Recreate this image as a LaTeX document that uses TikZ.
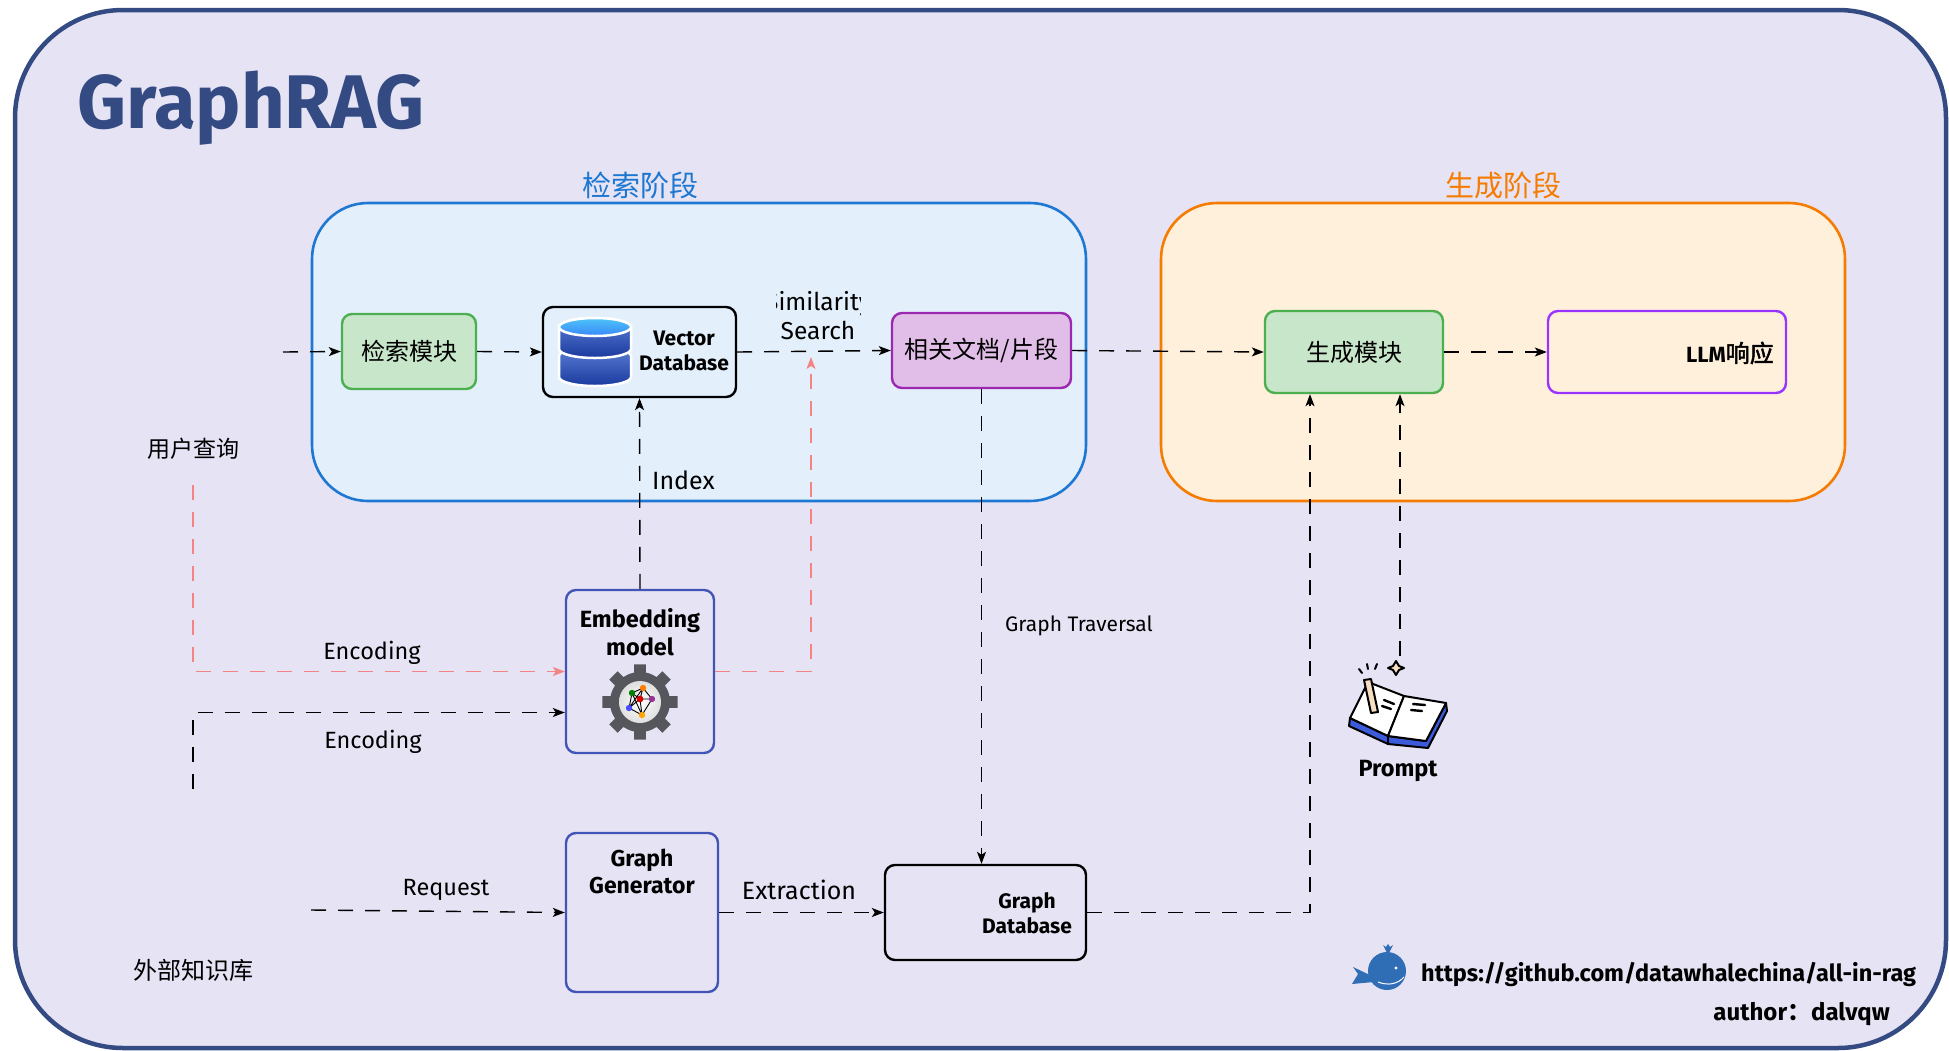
\documentclass[tikz,border=0pt]{standalone}
\usepackage{fontspec}
\setmainfont{Fira Sans}
\newfontfamily\cjk{Noto Sans CJK SC}
\newfontfamily\cjkb[AutoFakeBold=2]{Noto Sans CJK SC}
\usetikzlibrary{arrows.meta,calc}

\definecolor{pagebg}{HTML}{E6E4F4}
\definecolor{frameblue}{HTML}{344A82}
\definecolor{retfill}{HTML}{E3F0FC}
\definecolor{retline}{HTML}{1E78D2}
\definecolor{genfill}{HTML}{FFF0DC}
\definecolor{genline}{HTML}{F57C00}
\definecolor{greenfill}{HTML}{C8E6C9}
\definecolor{greenline}{HTML}{4CAF50}
\definecolor{purplefill}{HTML}{E1BEE7}
\definecolor{purpleline}{HTML}{9C27B0}
\definecolor{violetline}{HTML}{9933FF}
\definecolor{indigoline}{HTML}{4254B8}
\definecolor{linkred}{HTML}{F48484}
\definecolor{geargray}{HTML}{55575C}
\definecolor{whaleblue}{HTML}{2F6DB5}
\definecolor{bookblue}{HTML}{3B5BDB}
\definecolor{pencilc}{HTML}{F8DEC0}
\definecolor{dbtop}{HTML}{4FC3F7}
\definecolor{dbmid}{HTML}{5C7FD6}
\definecolor{dbbot}{HTML}{1A3A9E}

\newcommand\fsz[2]{\fontsize{#1}{#2}\selectfont}

\begin{document}
\begin{tikzpicture}[x=1pt,y=-1pt,
  flow/.style={line width=1.4pt, dash pattern=on 15pt off 12pt,
    -{Stealth[length=12pt,width=9pt,inset=3pt]}},
  redflow/.style={flow, draw=linkred},
  stage/.style={rounded corners=56pt, line width=2.6pt},
  card/.style={rounded corners=10pt, line width=2.4pt, inner sep=0pt},
  lbl/.style={font=\fsz{23.5}{28}, inner sep=0pt},
  boldlbl/.style={font=\bfseries\fsz{21}{26}, inner sep=0pt, align=center},
  cjklbl/.style={font=\cjk\fsz{24}{28}, inner sep=0pt},
  dbwhite/.style={draw=white, line width=2.5pt},
]
\useasboundingbox (0,0) rectangle (1949,1050);
\fill[white] (0,0) rectangle (1949,1050);

% outer frame and title
\draw[line width=4.5pt, draw=frameblue, fill=pagebg, rounded corners=108pt]
  (15,10) rectangle (1946,1048);
\node[anchor=base west, inner sep=0pt, text=frameblue, font=\bfseries\fsz{76}{80}]
  (title) at (77,128) {GraphRAG};

% stages
\draw[stage, draw=retline, fill=retfill] (312,203) rectangle (1086,501);
\draw[stage, draw=genline, fill=genfill] (1161,203) rectangle (1845,501);
\node[font=\cjk\fsz{29}{32}, text=retline, inner sep=0pt] (retlbl) at (640,185) {检索阶段};
\node[font=\cjk\fsz{29}{32}, text=genline, inner sep=0pt] (genlbl) at (1503,185) {生成阶段};

% boxes of the upper row
\node[card, draw=greenline, fill=greenfill, minimum width=134pt, minimum height=75pt,
  font=\cjk\fsz{24}{28}] (ret) at (409,351.5) {检索模块};
\node[card, draw=black, fill=retfill, minimum width=193pt, minimum height=90pt] (vdb) at (639.5,352) {};
\node[boldlbl, font=\bfseries\fsz{21}{25}] (vdbtxt) at (684,351) {Vector\\Database};
\node[card, draw=purpleline, fill=purplefill, minimum width=179pt, minimum height=75pt,
  font=\cjk\fsz{24}{28}] (docs) at (981.5,350.5) {相关文档/片段};
\node[card, draw=greenline, fill=greenfill, minimum width=178pt, minimum height=82pt,
  font=\cjk\fsz{24}{28}] (gen) at (1354,352) {生成模块};
\node[card, draw=violetline, fill=genfill, minimum width=238pt, minimum height=82pt] (llm) at (1667,352) {};
\node[inner sep=0pt, anchor=east] (llmtxt) at (1774,353)
  {\bfseries\fsz{22}{26}LLM{\cjkb\fsz{24}{28}\bfseries 响应}};

% database icon
\begin{scope}
  \shade[top color=dbmid, bottom color=dbbot, dbwhite]
    (559,356) -- (559,377) arc[start angle=180, end angle=0, x radius=36, y radius=9]
    -- (631,356) arc[start angle=360, end angle=180, x radius=36, y radius=9] -- cycle;
  \shade[top color=dbmid, bottom color=dbbot, dbwhite]
    (559,327) -- (559,349) arc[start angle=180, end angle=0, x radius=36, y radius=9]
    -- (631,327) arc[start angle=360, end angle=180, x radius=36, y radius=9] -- cycle;
  \shade[top color=dbtop, bottom color=dbtop!70!blue, dbwhite]
    (595,327) ellipse[x radius=36, y radius=9];
\end{scope}

% lower boxes
\node[card, draw=indigoline, fill=pagebg, minimum width=148pt, minimum height=163pt] (emb) at (640,671.5) {};
\node[boldlbl, font=\bfseries\fsz{23.5}{28}] (embtxt) at (640,632) {Embedding\\model};
\node[card, draw=indigoline, fill=pagebg, minimum width=152pt, minimum height=159pt] (ggen) at (642,912.5) {};
\node[boldlbl, font=\bfseries\fsz{23}{27}] (ggentxt) at (642,871) {Graph\\Generator};
\node[card, draw=black, fill=pagebg, minimum width=201pt, minimum height=95pt] (gdb) at (985.5,912.5) {};
\node[boldlbl, font=\bfseries\fsz{21}{25}] (gdbtxt) at (1027,913) {Graph\\Database};

% gear icon
\begin{scope}[shift={(640,702)}]
  \fill[geargray] (0,0) circle (30);
  \foreach \a in {0,45,...,315}
    \fill[geargray] (\a-12:28) -- (\a-9:38) -- (\a+9:38) -- (\a+12:28) -- cycle;
  \shade[inner color=white, outer color=gray!25] (0,0) circle (21);
  \draw[black, line width=0.9pt]
    (-8,-9) -- (3,-14) -- (12,-3) -- (2,13) -- (-11,6) -- cycle
    (-8,-9) -- (0,-3) -- (12,-3) (3,-14) -- (0,-3) -- (-11,6)
    (0,-3) -- (2,13) (-8,-9) -- (2,13) (3,-14) -- (-11,6);
  \fill[green!50!black] (-8,-9) circle (3.2);
  \fill[orange] (3,-14) circle (3.2);
  \fill[violet!80] (12,-3) circle (3.2);
  \fill[red!85!black] (0,-3) circle (3.4);
  \fill[blue!70] (-11,6) circle (3.2);
  \fill[orange!70!yellow] (2,13) circle (3.2);
\end{scope}

% side texts
\node[cjklbl, font=\cjk\fsz{23}{27}] (uq) at (193,449) {用户查询};
\node[cjklbl] (kb) at (193,970) {外部知识库};

% prompt icon
\begin{scope}[line join=round, line width=2pt]
  \fill[bookblue, draw=black]
    (1350,718) -- (1388,736) -- (1426,741) -- (1446,703) -- (1447,711)
    -- (1428,748) -- (1388,744) -- (1349,726) -- cycle;
  \draw[black] (1388,736) -- (1388,744);
  \fill[white, draw=black] (1350,718) -- (1388,736) -- (1404,696) -- (1368,682) -- cycle;
  \fill[white, draw=black] (1388,736) -- (1426,741) -- (1446,703) -- (1404,696) -- cycle;
  \draw[black, line width=2.4pt, line cap=round]
    (1384,700) -- (1394,704) (1382,706) -- (1391,709)
    (1413,704) -- (1425,705) (1411,710) -- (1422,711);
  \fill[pencilc, draw=black] (1371,713) -- (1378,712) -- (1371,679) -- (1364,680) -- cycle;
  \fill[pencilc, draw=black] (1396,661) -- (1399,666) -- (1404,668) -- (1399,670)
    -- (1396,675) -- (1393,670) -- (1388,668) -- (1393,666) -- cycle;
  \draw[black, line cap=round] (1359,669) -- (1362,673) (1367,664) -- (1368,669) (1377,664) -- (1375,669);
\end{scope}
\node[inner sep=0pt, font=\bfseries\fsz{23.5}{28}] (prompt) at (1398,771) {Prompt};
\coordinate (ptop) at (1400,656);

% whale mark and credits
\begin{scope}
  \fill[whaleblue] (1387,971) circle (19);
  \fill[whaleblue] (1372,976) -- (1353,967) -- (1358,974) -- (1352,984) -- (1374,982) -- cycle;
  \fill[whaleblue] (1387,953) -- (1383,945) -- (1386,947) -- (1388,944) -- (1390,947) -- (1393,945) -- (1389,953) -- cycle;
  \fill[white] (1396,968) circle (1.6);
  \draw[white, line width=1pt] (1378,982) .. controls (1388,986) and (1398,984) .. (1404,977);
\end{scope}
\node[anchor=west, inner sep=0pt, font=\bfseries\fsz{23.5}{28}] (url) at (1421,975)
  {https://github.com/datawhalechina/all-in-rag};
\node[anchor=east, inner sep=0pt, font=\bfseries\fsz{24}{28}] (author) at (1890,1014)
  {author{\cjk ：}dalvqw};

% free connector ends
\coordinate (qin) at (283,352);
\coordinate (uqs) at (193,485);
\coordinate (kbs) at (193,789);
\coordinate (reqs) at (311,910);
\coordinate (simhit) at (811,357);

% connectors
\draw[flow] (qin) -- (ret.west);
\draw[flow] (ret.east) -- (vdb.west);
\draw[flow] (vdb.east) -- (docs.west);
\draw[flow] (docs.east) -- (gen.west);
\draw[flow] (gen.east) -- (llm.west);
\draw[flow] (emb.north) -- (vdb.south);
\draw[redflow] (emb.east) -| (simhit);
\draw[redflow] (uqs) |- (emb.west);
\draw[flow] (kbs) |- ([yshift=-41pt]emb.west);
\draw[flow] (reqs) -- (ggen.west);
\draw[flow] (ggen.east) -- (gdb.west);
\draw[flow] (docs.south) -- (docs.south |- gdb.north);
\draw[flow] (gdb.east) -| ([xshift=-44pt]gen.south);
\draw[flow] (ptop) -- ([xshift=46pt]gen.south);

% connector labels
\begin{scope}
  \clip (776,285) rectangle (860,345);
  \node[lbl, align=center, font=\fsz{24.5}{29}] (sim) at (818,316) {Similarity\\Search};
\end{scope}
\node[lbl, anchor=west, font=\fsz{25}{29}] (idx) at (652,480) {Index};
\node[lbl] (enc1) at (372,653) {Encoding};
\node[lbl] (enc2) at (373,742) {Encoding};
\node[lbl] (req) at (446,890) {Request};
\node[lbl, font=\fsz{25}{29}] (ext) at (799,890) {Extraction};
\node[lbl, font=\fsz{21}{25}] (trav) at (1079,626) {Graph Traversal};
\end{tikzpicture}
\end{document}
